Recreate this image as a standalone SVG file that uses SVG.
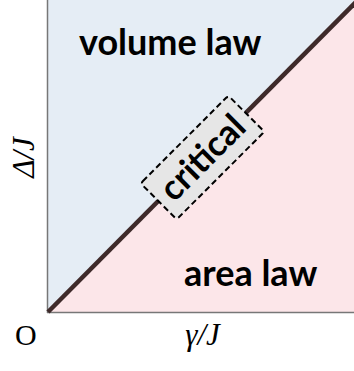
<svg xmlns="http://www.w3.org/2000/svg" width="354" height="371" viewBox="0 0 354 371">
<style>
.lbl{font-family:Lato,"Open Sans",sans-serif;font-weight:bold;fill:#000}
.ax{font-family:"Liberation Serif",serif;fill:#000}
</style>
<rect x="0" y="0" width="354" height="371" fill="#fff"/>
<g id="regions">
<polygon points="48,0 354,0 354,4 48,312" fill="#e5edf5"/>
<polygon points="354,4 354,312 48,312" fill="#fce6e9"/>
</g>
<g id="axes" stroke="#777" stroke-width="1.5" fill="none">
<line x1="47.5" y1="0" x2="47.5" y2="313"/>
<line x1="47" y1="312.5" x2="354" y2="312.5"/>
</g>
<g id="connectors">
<line x1="48" y1="312" x2="356" y2="2" stroke="#3e2a2a" stroke-width="4.5"/>
</g>
<g id="volume"><text class="lbl" x="79" y="55" font-size="36">volume law</text></g>
<g id="area"><text class="lbl" x="184" y="286" font-size="36">area law</text></g>
<g id="critical" transform="translate(202.5,157.5) rotate(-45)">
<rect x="-62" y="-25.5" width="124" height="51" rx="3" fill="#e6e6e6" stroke="#000" stroke-width="2" stroke-dasharray="6,3.5"/>
<text class="lbl" x="0" y="12" font-size="35" text-anchor="middle">critical</text>
</g>
<g id="xlabel"><text class="ax" x="202.5" y="345" font-size="31" font-style="italic" text-anchor="middle">γ/J</text></g>
<g id="origin"><text class="ax" x="15" y="345" font-size="30">O</text></g>
<g id="ylabel"><text class="ax" transform="translate(34,157.5) rotate(-90)" font-size="31" font-style="italic" text-anchor="middle">Δ/J</text></g>
</svg>
